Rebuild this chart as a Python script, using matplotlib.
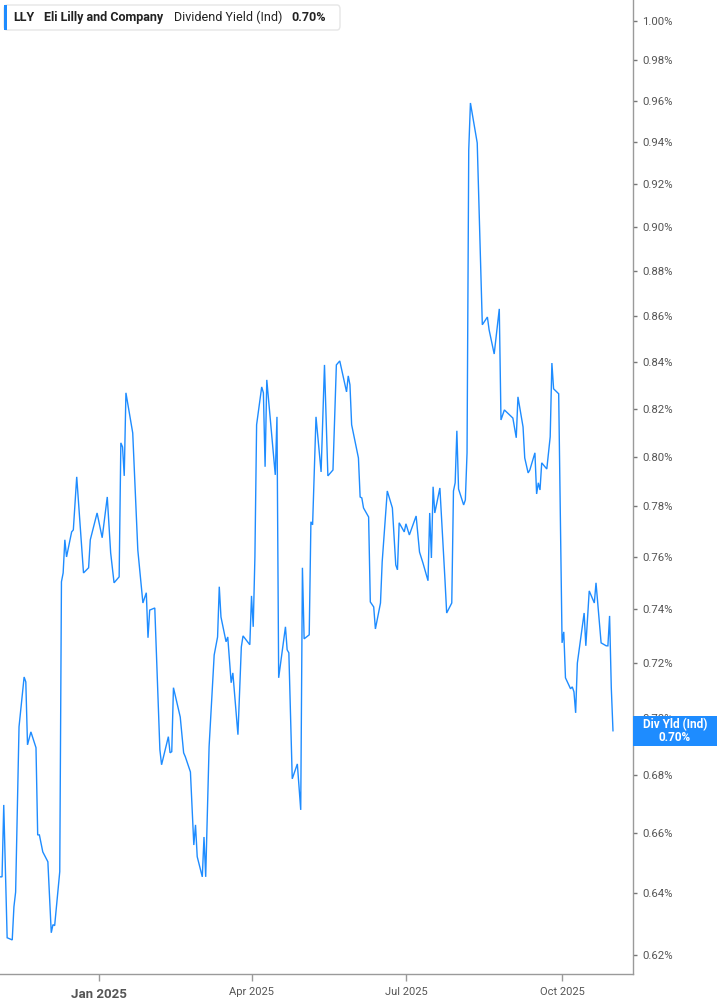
import matplotlib
matplotlib.use('Agg')
import matplotlib.pyplot as plt
from matplotlib.patches import Rectangle, FancyBboxPatch
from matplotlib.ticker import FixedLocator, NullLocator, FixedFormatter
import matplotlib.dates as mdates
import pandas as pd

# ---------------- data ----------------
dates = [
    '2024-11-04', '2024-11-05', '2024-11-06', '2024-11-08', '2024-11-11', '2024-11-12', '2024-11-13',
    '2024-11-15', '2024-11-18', '2024-11-19', '2024-11-20', '2024-11-22', '2024-11-25', '2024-11-26',
    '2024-11-27', '2024-11-29', '2024-12-02', '2024-12-04', '2024-12-05', '2024-12-06', '2024-12-09',
    '2024-12-10', '2024-12-11', '2024-12-12', '2024-12-13', '2024-12-16', '2024-12-17', '2024-12-19',
    '2024-12-23', '2024-12-26', '2024-12-27', '2024-12-31', '2025-01-03', '2025-01-06', '2025-01-08',
    '2025-01-10', '2025-01-13', '2025-01-14', '2025-01-15', '2025-01-16', '2025-01-17', '2025-01-21',
    '2025-01-24', '2025-01-27', '2025-01-29', '2025-01-30', '2025-01-31', '2025-02-03', '2025-02-06',
    '2025-02-07', '2025-02-11', '2025-02-12', '2025-02-13', '2025-02-14', '2025-02-18', '2025-02-20',
    '2025-02-21', '2025-02-24', '2025-02-26', '2025-02-27', '2025-02-28', '2025-03-03', '2025-03-04',
    '2025-03-05', '2025-03-07', '2025-03-10', '2025-03-12', '2025-03-13', '2025-03-14', '2025-03-17',
    '2025-03-18', '2025-03-20', '2025-03-21', '2025-03-24', '2025-03-26', '2025-03-27', '2025-03-31',
    '2025-04-01', '2025-04-02', '2025-04-03', '2025-04-04', '2025-04-07', '2025-04-08', '2025-04-09',
    '2025-04-10', '2025-04-15', '2025-04-16', '2025-04-17', '2025-04-21', '2025-04-22', '2025-04-23',
    '2025-04-25', '2025-04-28', '2025-04-30', '2025-05-01', '2025-05-02', '2025-05-05', '2025-05-06',
    '2025-05-07', '2025-05-09', '2025-05-12', '2025-05-14', '2025-05-16', '2025-05-19', '2025-05-21',
    '2025-05-23', '2025-05-27', '2025-05-28', '2025-05-29', '2025-05-30', '2025-06-03', '2025-06-04',
    '2025-06-05', '2025-06-06', '2025-06-09', '2025-06-10', '2025-06-12', '2025-06-13', '2025-06-16',
    '2025-06-17', '2025-06-20', '2025-06-23', '2025-06-25', '2025-06-26', '2025-06-27', '2025-06-30',
    '2025-07-01', '2025-07-03', '2025-07-07', '2025-07-09', '2025-07-11', '2025-07-14', '2025-07-15',
    '2025-07-16', '2025-07-17', '2025-07-18', '2025-07-21', '2025-07-24', '2025-07-25', '2025-07-28',
    '2025-07-29', '2025-07-30', '2025-07-31', '2025-08-01', '2025-08-04', '2025-08-05', '2025-08-06',
    '2025-08-07', '2025-08-08', '2025-08-12', '2025-08-15', '2025-08-18', '2025-08-19', '2025-08-22',
    '2025-08-25', '2025-08-26', '2025-08-28', '2025-09-02', '2025-09-04', '2025-09-05', '2025-09-08',
    '2025-09-09', '2025-09-11', '2025-09-12', '2025-09-15', '2025-09-16', '2025-09-17', '2025-09-18',
    '2025-09-19', '2025-09-22', '2025-09-24', '2025-09-25', '2025-09-26', '2025-09-29', '2025-10-01',
    '2025-10-02', '2025-10-03', '2025-10-06', '2025-10-07', '2025-10-08', '2025-10-09', '2025-10-10',
    '2025-10-14', '2025-10-15', '2025-10-17', '2025-10-20', '2025-10-21', '2025-10-24', '2025-10-27',
    '2025-10-28', '2025-10-29', '2025-10-30', '2025-10-31',
]

div_yield = [
    0.6453, 0.6453, 0.6695, 0.6255, 0.6248, 0.6355, 0.6403,
    0.6968, 0.7148, 0.7130, 0.6904, 0.6950, 0.6894, 0.6593,
    0.6593, 0.6536, 0.6503, 0.6271, 0.6297, 0.6294, 0.6470,
    0.7505, 0.7539, 0.7668, 0.7601, 0.7699, 0.7707, 0.7919,
    0.7539, 0.7559, 0.7668, 0.7774, 0.7676, 0.7838, 0.7617,
    0.7501, 0.7524, 0.8058, 0.8041, 0.7923, 0.8267, 0.8099,
    0.7628, 0.7424, 0.7463, 0.7293, 0.7397, 0.7405, 0.6887,
    0.6834, 0.6933, 0.6876, 0.6880, 0.7109, 0.7003, 0.6876,
    0.6862, 0.6809, 0.6559, 0.6627, 0.6520, 0.6453, 0.6586,
    0.6453, 0.6897, 0.7229, 0.7296, 0.7486, 0.7371, 0.7278,
    0.7296, 0.7127, 0.7163, 0.6940, 0.7259, 0.7300, 0.7267,
    0.7451, 0.7334, 0.7601, 0.8133, 0.8292, 0.8267, 0.7960,
    0.8322, 0.7927, 0.8166, 0.7145, 0.7334, 0.7248, 0.7237,
    0.6785, 0.6837, 0.6678, 0.7559, 0.7289, 0.7304, 0.7739,
    0.7727, 0.8166, 0.7939, 0.8386, 0.7923, 0.7947, 0.8386,
    0.8403, 0.8271, 0.8339, 0.8301, 0.8133, 0.7996, 0.7838,
    0.7834, 0.7794, 0.7758, 0.7428, 0.7409, 0.7326, 0.7424,
    0.7582, 0.7862, 0.7794, 0.7570, 0.7551, 0.7735, 0.7699,
    0.7731, 0.7687, 0.7762, 0.7620, 0.7578, 0.7509, 0.7774,
    0.7597, 0.7879, 0.7774, 0.7874, 0.7512, 0.7386, 0.7424,
    0.7862, 0.7895, 0.8108, 0.7870, 0.7806, 0.7826, 0.8017,
    0.9361, 0.9589, 0.9395, 0.8560, 0.8594, 0.8538, 0.8433,
    0.8630, 0.8153, 0.8195, 0.8161, 0.8079, 0.8250, 0.8124,
    0.7996, 0.7935, 0.7947, 0.8017, 0.7850, 0.7895, 0.7866,
    0.7976, 0.7951, 0.8083, 0.8394, 0.8284, 0.8263, 0.7274,
    0.7315, 0.7145, 0.7105, 0.7112, 0.7094, 0.7018, 0.7199,
    0.7386, 0.7263, 0.7470, 0.7424, 0.7501, 0.7274, 0.7263,
    0.7263, 0.7375, 0.7109, 0.6954,
]

y_ticks = [0.62, 0.64, 0.66, 0.68, 0.70, 0.72, 0.74, 0.76, 0.78, 0.80,
           0.82, 0.84, 0.86, 0.88, 0.90, 0.92, 0.94, 0.96, 0.98, 1.00]
y_tick_labels = [f'{v:.2f}%' for v in y_ticks]
x_tick_dates = ['2025-01-01', '2025-04-01', '2025-07-01', '2025-10-01']
x_tick_labels = ['Jan 2025', 'Apr 2025', 'Jul 2025', 'Oct 2025']

ticker_sym = 'LLY'
company = 'Eli Lilly and Company'
metric = 'Dividend Yield (Ind)'
last_label = 'Div Yld (Ind)'

# ---------------- style ----------------
plt.rcParams['font.family'] = ['Roboto', 'DejaVu Sans']
W, H = 717, 1005
LINE = '#1e8cff'
AXC = '#9a9a9a'
TXT = '#555555'

fig = plt.figure(figsize=(W / 100, H / 100), dpi=100)
fig.patch.set_facecolor('white')
ax_right_px, ax_bottom_px = 632.5, 974
ax = fig.add_axes([0, (H - ax_bottom_px) / H, ax_right_px / W, ax_bottom_px / H])

x = pd.to_datetime(dates)
ax.plot(x, div_yield, color=LINE, lw=1.0, solid_joinstyle='miter')

ax.set_yscale('log')
ax.set_ylim(0.6140, 1.0108)
ax.set_xlim(pd.Timestamp('2024-11-03 19:00'), pd.Timestamp('2025-11-11 12:00'))

for s in ['top', 'left']:
    ax.spines[s].set_visible(False)
for s in ['right', 'bottom']:
    ax.spines[s].set_color(AXC)
    ax.spines[s].set_linewidth(1.0)

ax.yaxis.tick_right()
ax.yaxis.set_major_locator(FixedLocator(y_ticks))
ax.yaxis.set_major_formatter(FixedFormatter(y_tick_labels))
ax.yaxis.set_minor_locator(NullLocator())
ax.tick_params(axis='y', which='major', length=3, width=1, color='#777777',
               labelsize=8.2, labelcolor=TXT, pad=4)

ax.xaxis.set_major_locator(FixedLocator(mdates.date2num(pd.to_datetime(x_tick_dates))))
ax.xaxis.set_major_formatter(FixedFormatter(x_tick_labels))
ax.xaxis.set_minor_locator(NullLocator())
ax.tick_params(axis='x', which='major', length=5, width=1, color=AXC,
               labelsize=8, labelcolor=TXT, pad=4)
for lbl in ax.get_xticklabels():
    if lbl.get_text().startswith('Jan'):
        lbl.set_fontweight('bold')
        lbl.set_fontsize(9.5)
        lbl.set_y(-0.002)

# ---------------- header box ----------------
def fx(px):
    return px / W

def fy(py):
    return 1 - py / H

hdr = FancyBboxPatch((fx(4), fy(30)), fx(336), (25 / H),
                     boxstyle='round,pad=0,rounding_size=0.004',
                     transform=fig.transFigure, facecolor='white',
                     edgecolor='#e6e6e6', lw=1.0, zorder=5)
fig.patches.append(hdr)
fig.patches.append(Rectangle((fx(4), fy(30)), fx(3), 25 / H, transform=fig.transFigure,
                             facecolor=LINE, edgecolor='none', zorder=6))
hy = fy(17.5)
fs_h = 9.0
fig.text(fx(13), hy, ticker_sym, fontsize=fs_h, fontweight='bold', color='#222222', va='center', zorder=7)
fig.text(fx(44), hy, company, fontsize=fs_h, fontweight='bold', color='#222222', va='center', zorder=7)
fig.text(fx(174), hy, metric, fontsize=fs_h, color='#222222', va='center', zorder=7)
fig.text(fx(291), hy, f'{div_yield[-1]:.2f}%', fontsize=fs_h, fontweight='bold', color='#222222',
         va='center', zorder=7)

# ---------------- last value label ----------------
fig.canvas.draw()
last_disp = ax.transData.transform((mdates.date2num(x[-1]), div_yield[-1]))
ly = last_disp[1]
box_h = 30
fig.patches.append(Rectangle((633, ly - box_h / 2), W - 633, box_h, transform=None,
                             facecolor='#1e8cff', edgecolor='none', zorder=8))
fig.text(675 / W, (ly + 6.5) / H, last_label, fontsize=8.5, fontweight='bold', color='white',
         ha='center', va='center', zorder=9)
fig.text(675 / W, (ly - 6.5) / H, f'{div_yield[-1]:.2f}%', fontsize=8.5, fontweight='bold', color='white',
         ha='center', va='center', zorder=9)

fig.savefig('out.png', dpi=100, facecolor='white')
